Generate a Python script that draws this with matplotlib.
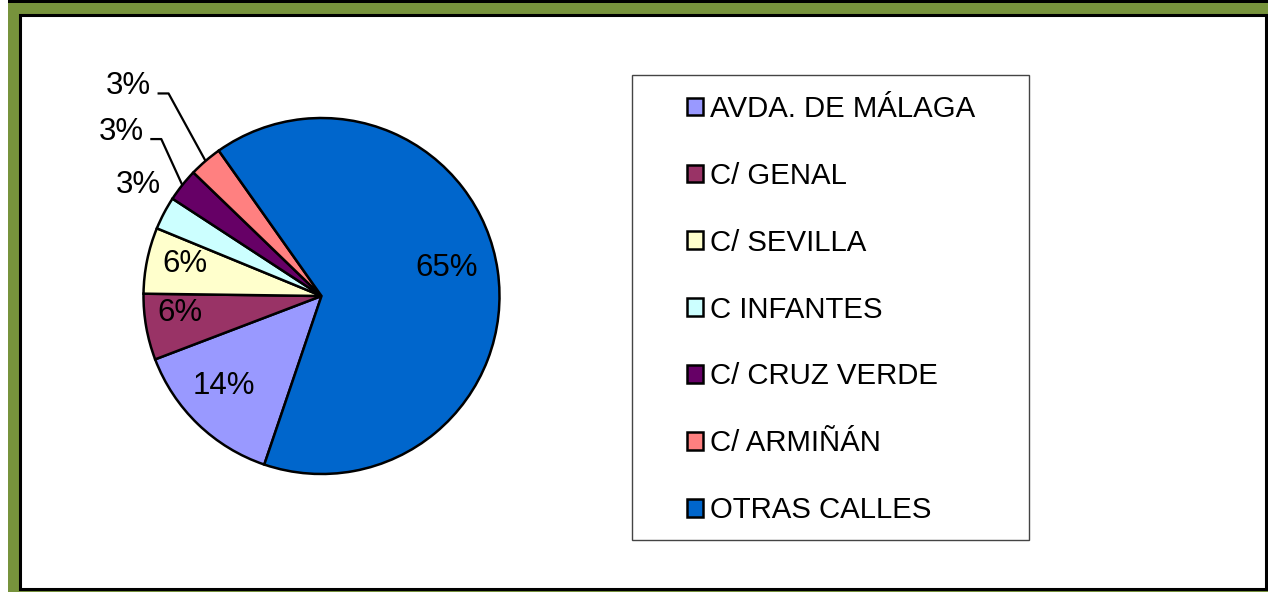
import numpy as np
import matplotlib
matplotlib.use("Agg")
import matplotlib.pyplot as plt
from matplotlib.patches import Rectangle

plt.rcParams['font.family'] = ['Liberation Sans', 'DejaVu Sans']

# data
calles = ['AVDA. DE MÁLAGA', 'C/ GENAL', 'C/ SEVILLA', 'C INFANTES',
          'C/ CRUZ VERDE', 'C/ ARMIÑÁN', 'OTRAS CALLES']
porcentajes = [14, 6, 6, 3, 3, 3, 65]
colores = ['#9999FF', '#993366', '#FFFFCC', '#CCFFFF', '#660066', '#FF8080', '#0066CC']

W, H = 1268, 592
fig = plt.figure(figsize=(W / 100, H / 100), dpi=100)
ax = fig.add_axes([0, 0, 1, 1])


def py(y):
    # pixel row (from top) -> data y
    return H - y


# frame: green band, black top line, white panel with black edge
ax.add_patch(Rectangle((8, py(592)), W - 8, 589, facecolor='#77933C', edgecolor='none', zorder=0))
ax.add_patch(Rectangle((8, py(3)), W - 8, 3, facecolor='black', edgecolor='none', zorder=0))
ax.add_patch(Rectangle((20, py(589)), 1246, 574, facecolor='white', edgecolor='black',
                       linewidth=2.2, zorder=0.5))

# pie
cx, cy, R = 321.5, py(296), 178
wedges, _ = ax.pie(porcentajes, colors=colores, startangle=-108.75, counterclock=False,
                   center=(cx, cy), radius=R,
                   wedgeprops=dict(edgecolor='black', linewidth=1.8))

# label placement (inside: radius fraction + angle nudge; outside: pixel offset from rim)
inner_r = [0.745, 0.80, 0.79, None, None, None, 0.72]
inner_shift = [-3.3, -3.1, -1.6, 0, 0, 0, 4.5]
outer_off = [None, None, None, (-26, -28), (-61, -53), (-77, -74.5), None]
leader = [False, False, False, False, True, True, False]
fs = 22.5
for i, w in enumerate(wedges):
    mid = (w.theta1 + w.theta2) / 2
    txt = f'{porcentajes[i]}%'
    if inner_r[i] is not None:
        a = np.deg2rad(mid + inner_shift[i])
        r = inner_r[i] * R
        ax.text(cx + r * np.cos(a), cy + r * np.sin(a), txt, fontsize=fs,
                ha='center', va='center')
    else:
        a = np.deg2rad(mid)
        ex, ey = cx + R * np.cos(a), cy + R * np.sin(a)
        lx, ly = ex + outer_off[i][0], ey - outer_off[i][1]
        ax.text(lx, ly, txt, fontsize=fs, ha='center', va='center')
        if leader[i]:
            ax.plot([ex, lx + 40, lx + 29], [ey, ly - 7, ly - 7],
                    color='black', linewidth=1.6, solid_capstyle='butt')

# legend box + legend
ax.add_patch(Rectangle((632, py(540)), 397, 465, facecolor='white', edgecolor='#444444',
                       linewidth=1.0, zorder=0.8))
ax.legend(wedges, calles, frameon=False, loc='upper left',
          bbox_to_anchor=(687, py(95)), bbox_transform=ax.transData,
          borderpad=0, borderaxespad=0, fontsize=21.2, handlelength=0.55,
          handleheight=0.55, handletextpad=0.22, labelspacing=1.32)

ax.set_xlim(0, W)
ax.set_ylim(0, H)
ax.set_aspect('auto')
ax.axis('off')

fig.savefig('out.png', dpi=100, facecolor='white')
